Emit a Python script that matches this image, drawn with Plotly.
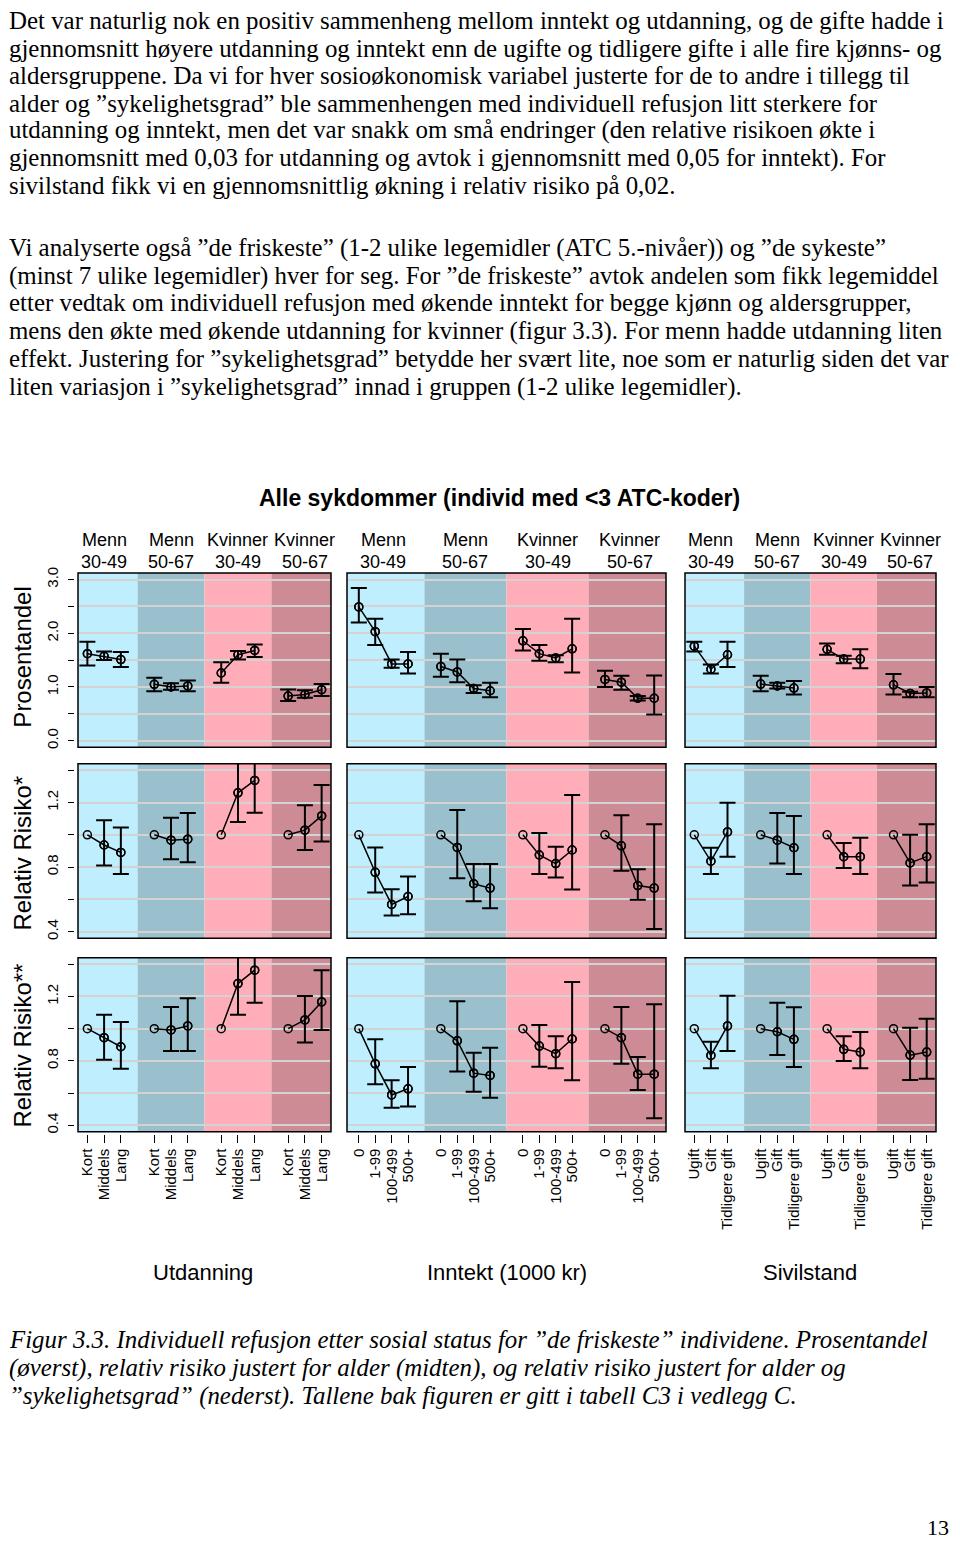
import plotly.graph_objects as go

# siden har 8 px marg rundt figuren i nettleseren
W, H = 944, 1537
OFF = 8

# --- tekst over og under figuren ---
body_lines = [
    "Det var naturlig nok en positiv sammenheng mellom inntekt og utdanning, og de gifte hadde i",
    "gjennomsnitt høyere utdanning og inntekt enn de ugifte og tidligere gifte i alle fire kjønns- og",
    "aldersgruppene. Da vi for hver sosioøkonomisk variabel justerte for de to andre i tillegg til",
    "alder og ”sykelighetsgrad” ble sammenhengen med individuell refusjon litt sterkere for",
    "utdanning og inntekt, men det var snakk om små endringer (den relative risikoen økte i",
    "gjennomsnitt med 0,03 for utdanning og avtok i gjennomsnitt med 0,05 for inntekt). For",
    "sivilstand fikk vi en gjennomsnittlig økning i relativ risiko på 0,02.",
    "Vi analyserte også ”de friskeste” (1-2 ulike legemidler (ATC 5.-nivåer)) og ”de sykeste”",
    "(minst 7 ulike legemidler) hver for seg. For ”de friskeste” avtok andelen som fikk legemiddel",
    "etter vedtak om individuell refusjon med økende inntekt for begge kjønn og aldersgrupper,",
    "mens den økte med økende utdanning for kvinner (figur 3.3). For menn hadde utdanning liten",
    "effekt. Justering for ”sykelighetsgrad” betydde her svært lite, noe som er naturlig siden det var",
    "liten variasjon i ”sykelighetsgrad” innad i gruppen (1-2 ulike legemidler).",
]
body_base = [25.5, 53, 80.5, 108, 135.5, 163, 190.5, 253.5, 281.5, 309, 337, 365, 393]

caption_lines = [
    "Figur 3.3. Individuell refusjon etter sosial status for ”de friskeste” individene. Prosentandel",
    "(øverst), relativ risiko justert for alder (midten), og relativ risiko justert for alder og",
    "”sykelighetsgrad” (nederst). Tallene bak figuren er gitt i tabell C3 i vedlegg C.",
]
caption_base = [1350, 1379, 1407]

# --- kategorier ---
title = "Alle sykdommer (individ med <3 ATC-koder)"
kjonn = ["Menn", "Menn", "Kvinner", "Kvinner"]
alder = ["30-49", "50-67", "30-49", "50-67"]
utd_cat = ["Kort", "Middels", "Lang"]
int_cat = ["0", "1-99", "100-499", "500+"]
siv_cat = ["Ugift", "Gift", "Tidligere gift"]
var_names = ["Utdanning", "Inntekt (1000 kr)", "Sivilstand"]
row_titles = ["Prosentandel", "Relativ Risiko*", "Relativ Risiko**"]

# --- prosentandel ---
utd_pct = [1.62, 1.57, 1.51, 1.05, 1.00, 1.02, 1.26, 1.60, 1.68, 0.83, 0.86, 0.95]
utd_pct_lo = [1.40, 1.50, 1.37, 0.92, 0.95, 0.92, 1.08, 1.51, 1.56, 0.74, 0.80, 0.83]
utd_pct_hi = [1.84, 1.66, 1.65, 1.17, 1.07, 1.12, 1.46, 1.67, 1.79, 0.955, 0.94, 1.055]

int_pct = [2.49, 2.03, 1.43, 1.43, 1.38, 1.28, 0.97, 0.93, 1.86, 1.62, 1.54, 1.71, 1.14, 1.09, 0.79, 0.79]
int_pct_lo = [2.20, 1.78, 1.36, 1.25, 1.19, 1.09, 0.89, 0.81, 1.68, 1.49, 1.46, 1.27, 1.00, 0.95, 0.75, 0.49]
int_pct_hi = [2.84, 2.27, 1.51, 1.65, 1.62, 1.51, 1.03, 1.08, 2.08, 1.78, 1.59, 2.27, 1.30, 1.21, 0.83, 1.215]

siv_pct = [1.76, 1.33, 1.60, 1.055, 1.02, 0.98, 1.70, 1.52, 1.52, 1.04, 0.88, 0.89]
siv_pct_lo = [1.66, 1.25, 1.37, 0.92, 0.97, 0.86, 1.60, 1.44, 1.35, 0.86, 0.81, 0.81]
siv_pct_hi = [1.84, 1.42, 1.84, 1.21, 1.08, 1.11, 1.81, 1.58, 1.70, 1.24, 0.91, 1.00]

# --- relativ risiko justert for alder ---
utd_rr = [1.00, 0.937, 0.891, 1.00, 0.967, 0.973, 1.00, 1.26, 1.337, 1.00, 1.029, 1.117]
utd_rr_lo = [None, 0.81, 0.758, None, 0.848, 0.83, None, 1.08, 1.137, None, 0.906, 0.959]
utd_rr_hi = [None, 1.09, 1.045, None, 1.106, 1.135, None, 1.48, 1.56, None, 1.183, 1.308]

int_rr = [1.00, 0.768, 0.569, 0.618, 1.00, 0.922, 0.697, 0.670, 1.00, 0.875, 0.822, 0.906, 1.00, 0.932, 0.686, 0.670]
int_rr_lo = [None, 0.643, 0.50, 0.508, None, 0.731, 0.588, 0.545, None, 0.758, 0.735, 0.662, None, 0.778, 0.598, 0.417]
int_rr_hi = [None, 0.922, 0.663, 0.742, None, 1.154, 0.820, 0.820, None, 1.012, 0.926, 1.246, None, 1.121, 0.787, 1.066]

siv_rr = [1.00, 0.837, 1.018, 1.00, 0.967, 0.92, 1.00, 0.865, 0.865, 1.00, 0.826, 0.865]
siv_rr_lo = [None, 0.758, 0.865, None, 0.822, 0.758, None, 0.795, 0.758, None, 0.686, 0.705]
siv_rr_hi = [None, 0.92, 1.199, None, 1.135, 1.117, None, 0.949, 0.982, None, 1.00, 1.066]

# --- relativ risiko justert for alder og sykelighetsgrad ---
utd_rr2 = [1.00, 0.944, 0.888, 1.00, 0.992, 1.017, 1.00, 1.28, 1.363, 1.00, 1.054, 1.166]
utd_rr2_lo = [None, 0.807, 0.752, None, 0.861, 0.861, None, 1.087, 1.161, None, 0.915, 0.992]
utd_rr2_hi = [None, 1.087, 1.042, None, 1.135, 1.189, None, 1.50, 1.58, None, 1.203, 1.363]

int_rr2 = [1.00, 0.782, 0.589, 0.627, 1.00, 0.925, 0.724, 0.710, 1.00, 0.892, 0.845, 0.936, 1.00, 0.944, 0.718, 0.718]
int_rr2_lo = [None, 0.656, 0.509, 0.518, None, 0.735, 0.609, 0.571, None, 0.764, 0.754, 0.68, None, 0.783, 0.619, 0.445]
int_rr2_hi = [None, 0.934, 0.680, 0.762, None, 1.170, 0.851, 0.882, None, 1.023, 0.953, 1.29, None, 1.135, 0.824, 1.152]

siv_rr2 = [1.00, 0.834, 1.017, 1.00, 0.981, 0.934, 1.00, 0.872, 0.855, 1.00, 0.836, 0.855]
siv_rr2_lo = [None, 0.754, 0.861, None, 0.837, 0.762, None, 0.80, 0.754, None, 0.681, 0.69]
siv_rr2_hi = [None, 0.919, 1.205, None, 1.161, 1.133, None, 0.953, 0.979, None, 1.006, 1.062]

band_colors = ["#BFEFFF", "#9AC0CD", "#FFAEB9", "#CD8C95"]
grid_color = "#D3D3D3"

cats = [utd_cat, int_cat, siv_cat]
panels = [
    [(utd_pct, utd_pct_lo, utd_pct_hi), (int_pct, int_pct_lo, int_pct_hi), (siv_pct, siv_pct_lo, siv_pct_hi)],
    [(utd_rr, utd_rr_lo, utd_rr_hi), (int_rr, int_rr_lo, int_rr_hi), (siv_rr, siv_rr_lo, siv_rr_hi)],
    [(utd_rr2, utd_rr2_lo, utd_rr2_hi), (int_rr2, int_rr2_lo, int_rr2_hi), (siv_rr2, siv_rr2_lo, siv_rr2_hi)],
]

# plassering i sidepiksler
col_px = [(78, 331), (347, 666), (685, 936)]
row_px = [(570, 745), (761.7, 937), (956.7, 1131.7)]


def fx(px):
    return (px - OFF) / W


def fy(py):
    return 1 - (py - OFF) / H


sans = "Liberation Sans, Arial, sans-serif"
serif = "Liberation Serif, Times New Roman, serif"

fig = go.Figure()
layout = dict(width=W, height=H, margin=dict(l=0, r=0, t=0, b=0),
              paper_bgcolor="white", plot_bgcolor="rgba(0,0,0,0)",
              showlegend=False)
shapes = []
annotations = []


def note(text, x, y, size, family=sans, xanchor="center", xref="paper", angle=0, pad=1):
    annotations.append(dict(text=text, x=x, y=y, xref=xref, yref="paper", showarrow=False,
                            xanchor=xanchor, yanchor="middle", textangle=angle, borderpad=pad,
                            font=dict(family=family, size=size, color="black")))


marker = dict(symbol="circle-open", size=8, color="black", line=dict(width=1.5, color="black"))

for r in range(3):
    for c in range(3):
        k = r * 3 + c + 1
        sfx = "" if k == 1 else str(k)
        xa, ya = "x" + sfx, "y" + sfx
        n = len(cats[c])
        N = 4 * n + 3
        pad = 0.04 * (N - 1)
        xr = [1 - pad, N + pad]
        vals, lo, hi = panels[r][c]
        pos = [g * (n + 1) + i + 1 for g in range(4) for i in range(n)]

        for g in range(4):
            idx = list(range(g * n, (g + 1) * n))
            ei = [i for i in idx if lo[i] is not None]
            fig.add_trace(go.Scatter(
                x=[pos[i] for i in ei], y=[vals[i] for i in ei], mode="markers",
                marker=marker, xaxis=xa, yaxis=ya, hoverinfo="skip",
                error_y=dict(type="data", symmetric=False,
                             array=[hi[i] - vals[i] for i in ei],
                             arrayminus=[vals[i] - lo[i] for i in ei],
                             color="black", thickness=2, width=8)))
            fig.add_trace(go.Scatter(
                x=[pos[i] for i in idx], y=[vals[i] for i in idx], mode="lines+markers",
                line=dict(color="black", width=1.5), marker=marker,
                xaxis=xa, yaxis=ya, hoverinfo="skip"))

        # bakgrunnsbånd og ramme
        edges = [xr[0], n + 1, 2 * (n + 1), 3 * (n + 1), xr[1]]
        for g in range(4):
            shapes.append(dict(type="rect", xref=xa, yref=ya + " domain",
                               x0=edges[g], x1=edges[g + 1], y0=0, y1=1,
                               fillcolor=band_colors[g], line=dict(width=0), layer="below"))
        shapes.append(dict(type="rect", xref=xa + " domain", yref=ya + " domain",
                           x0=0, x1=1, y0=0, y1=1, line=dict(color="black", width=1.5),
                           layer="above"))

        xd = [fx(col_px[c][0]), fx(col_px[c][1])]
        yd = [fy(row_px[r][1]), fy(row_px[r][0])]
        xax = dict(domain=xd, range=xr, showgrid=False, zeroline=False,
                   showline=False, tickvals=pos)
        if r == 2:
            xax.update(anchor="free", position=fy(1133.5), ticks="outside", ticklen=8,
                       tickwidth=1, tickcolor="black", tickangle=-90,
                       ticktext=cats[c] * 4,
                       tickfont=dict(family=sans, size=15, color="black"))
        else:
            xax.update(anchor=ya, showticklabels=False, ticks="")

        if r == 0:
            yr = [-0.12, 3.12]
            tv = [0, 0.5, 1, 1.5, 2, 2.5, 3]
            tt = ["0.0", "", "1.0", "", "2.0", "", "3.0"]
        else:
            yr = [0.36, 1.44]
            tv = [0.4, 0.6, 0.8, 1.0, 1.2, 1.4]
            tt = ["0.4", "", "0.8", "", "1.2", ""]
        yax = dict(domain=yd, range=yr, showgrid=True, gridcolor=grid_color, gridwidth=2,
                   zeroline=False, showline=False, tickvals=tv, ticktext=tt)
        if c == 0:
            yax.update(anchor="free", position=fx(74), ticks="outside", ticklen=6,
                       tickwidth=1, tickcolor="black", tickangle=-90, ticklabelstandoff=4,
                       tickfont=dict(family=sans, size=15, color="black"))
        else:
            yax.update(anchor=xa, showticklabels=False, ticks="")

        layout["xaxis" + sfx] = xax
        layout["yaxis" + sfx] = yax

        # gruppeoverskrifter
        if r == 0:
            for g in range(4):
                xm = g * (n + 1) + (n + 1) / 2
                note(kjonn[g], xm, fy(536.5), 18, xref=xa)
                note(alder[g], xm, fy(558.5), 18, xref=xa)

# tittel og aksetitler
note("<b>" + title.replace("<", "&lt;") + "</b>", fx(499), fy(495), 23)
for txt, yy in zip(row_titles, [655, 852, 1045]):
    note(txt, fx(23), fy(yy), 24, angle=-90)
for txt, xx in zip(var_names, [203, 507, 810]):
    note(txt, fx(xx), fy(1273), 22)

# brødtekst og figurtekst (plassert etter grunnlinje)
for txt, yb in zip(body_lines, body_base):
    note(txt, fx(8), fy(yb - 10.5), 24.9, family=serif, xanchor="left", pad=0)
for txt, yb in zip(caption_lines, caption_base):
    note("<i>" + txt + "</i>", fx(8), fy(yb - 9.5), 24.9, family=serif, xanchor="left", pad=0)
note("13", fx(938), fy(1529), 22, family=serif)

layout["shapes"] = shapes
layout["annotations"] = annotations
fig.update_layout(**layout)

fig.write_html("out.html")
